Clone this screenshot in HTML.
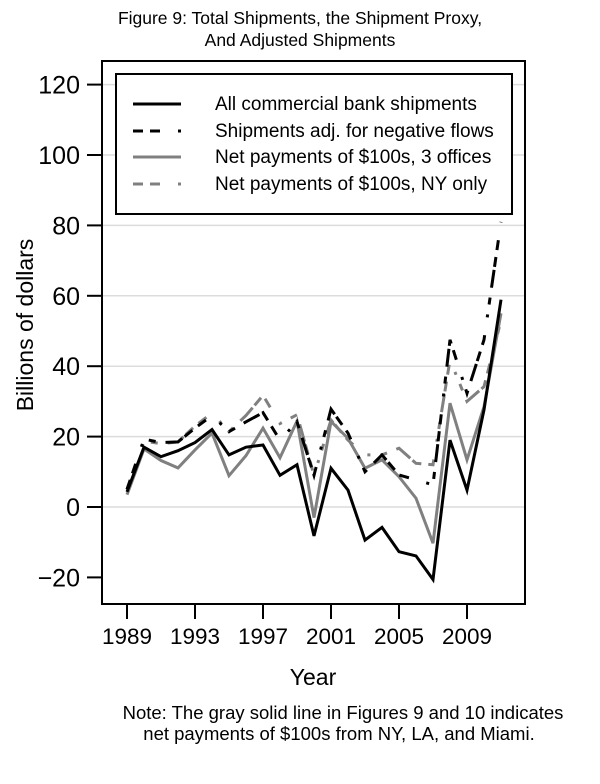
<!DOCTYPE html>
<html><head><meta charset="utf-8"><style>
body{margin:0;background:#fff;}
svg{display:block;font-family:"Liberation Sans",Arial,sans-serif;}
</style></head><body>
<svg width="600" height="784" viewBox="0 0 600 784">
<text x="300" y="24" text-anchor="middle" font-size="17.5">Figure 9: Total Shipments, the Shipment Proxy,</text>
<text x="300" y="46" text-anchor="middle" font-size="17.5">And Adjusted Shipments</text>
<g id="grid"></g>
<g id="series"></g>
<rect x="102" y="61" width="423" height="543" fill="none" stroke="#000" stroke-width="2"/>
<g id="axes"></g>
<text transform="translate(33,325) rotate(-90)" text-anchor="middle" font-size="23">Billions of dollars</text>
<text x="313" y="685" text-anchor="middle" font-size="23">Year</text>
<g>
<rect x="116" y="74" width="396" height="140" fill="#fff" stroke="#000" stroke-width="2"/>
<line x1="133" y1="104" x2="181" y2="104" stroke="#000" stroke-width="3"/>
<text x="215" y="110" font-size="19">All commercial bank shipments</text>
<line x1="133" y1="131" x2="181" y2="131" stroke="#000" stroke-width="3" stroke-dasharray="10,7,10,18,3"/>
<text x="215" y="137" font-size="19">Shipments adj. for negative flows</text>
<line x1="133" y1="157" x2="181" y2="157" stroke="#808080" stroke-width="3"/>
<text x="215" y="163" font-size="19">Net payments of $100s, 3 offices</text>
<line x1="133" y1="184" x2="181" y2="184" stroke="#808080" stroke-width="3" stroke-dasharray="10,7,10,18,3"/>
<text x="215" y="190" font-size="19">Net payments of $100s, NY only</text>
</g>
<text x="343" y="719" text-anchor="middle" font-size="18.5">Note: The gray solid line in Figures 9 and 10 indicates</text>
<text x="339" y="740" text-anchor="middle" font-size="18.5">net payments of $100s from NY, LA, and Miami.</text>
</svg>
<script>
const years=[1989,1990,1991,1992,1993,1994,1995,1996,1997,1998,1999,2000,2001,2002,2003,2004,2005,2006,2007,2008,2009,2010,2011];
const allShipments=[4.3,17,14.3,16,18.3,22,14.8,17,17.6,9,12,-8.2,11,4.8,-9.4,-5.8,-12.7,-13.9,-20.6,19,4.8,27.6,58.9];
const adjShipments=[5,19.3,18.3,18.5,22.4,26,21.4,24.2,26.8,19,24.2,9,27.8,21,10,14.8,9.1,7.7,6.3,47.5,32.3,47.5,81];
const net3Offices=[3.5,16.5,13.2,11.1,16.2,21,8.9,14.6,22.4,14,24.4,-3,24.3,19.5,11,13.4,8.6,2.5,-10.3,29.5,13.4,28.5,55];
const netNY=[5,18.7,18,18.5,23,26.7,21.4,26,31.7,23.7,26.2,9,24.7,19,14.8,14.8,16.7,12.4,12,41.8,30,34.2,53];
const yTicks=[-20,0,20,40,60,80,100,120];
const xTicks=[1989,1993,1997,2001,2005,2009];
const NS="http://www.w3.org/2000/svg";
function xS(yr){return 127+(yr-1989)*17;}
function yS(v){return 507-v*3.52;}
function mk(t,a){const e=document.createElementNS(NS,t);for(const k in a)e.setAttribute(k,a[k]);return e;}
const grid=document.getElementById('grid'),axes=document.getElementById('axes'),ser=document.getElementById('series');
yTicks.forEach(v=>{
 const y=yS(v);
 if(v>-20){const g=mk('line',{x1:103,x2:524,y1:y,y2:y,stroke:'#dcdcdc','stroke-width':1.5});
 
 grid.appendChild(g);}
 const t=mk('line',{x1:87,x2:102,y1:y,y2:y,stroke:'#000','stroke-width':2});
 
 axes.appendChild(t);
 const l=mk('text',{x:80,y:y+9,'text-anchor':'end','font-size':25});l.textContent=v<0?'\u221220':String(v);
 
 axes.appendChild(l);
});
xTicks.forEach(yr=>{
 const x=xS(yr);
 const t=mk('line',{x1:x,x2:x,y1:604,y2:619,stroke:'#000','stroke-width':2});
 
 axes.appendChild(t);
 const l=mk('text',{x:x,y:644,'text-anchor':'middle','font-size':22.5});l.textContent=yr;
 
 axes.appendChild(l);
});
const defs=mk('defs',{});const cp=mk('clipPath',{id:'pc'});cp.appendChild(mk('rect',{x:102,y:61,width:423,height:543}));defs.appendChild(cp);ser.appendChild(defs);
function draw(vals,color,dash,name){
 const p=mk('polyline',{points:vals.map((v,i)=>xS(years[i])+','+yS(v)).join(' '),fill:'none',stroke:color,'stroke-width':3,'stroke-linejoin':'miter','clip-path':'url(#pc)'});
 if(dash)p.setAttribute('stroke-dasharray',dash);
 
 
 ser.appendChild(p);
}
draw(netNY,'#808080','10,7,10,18,3','series-net-ny-only');
draw(net3Offices,'#808080',null,'series-net-3-offices');
draw(adjShipments,'#000','10,7,10,18,3','series-adjusted-shipments');
draw(allShipments,'#000',null,'series-all-shipments');
</script>
</body></html>
